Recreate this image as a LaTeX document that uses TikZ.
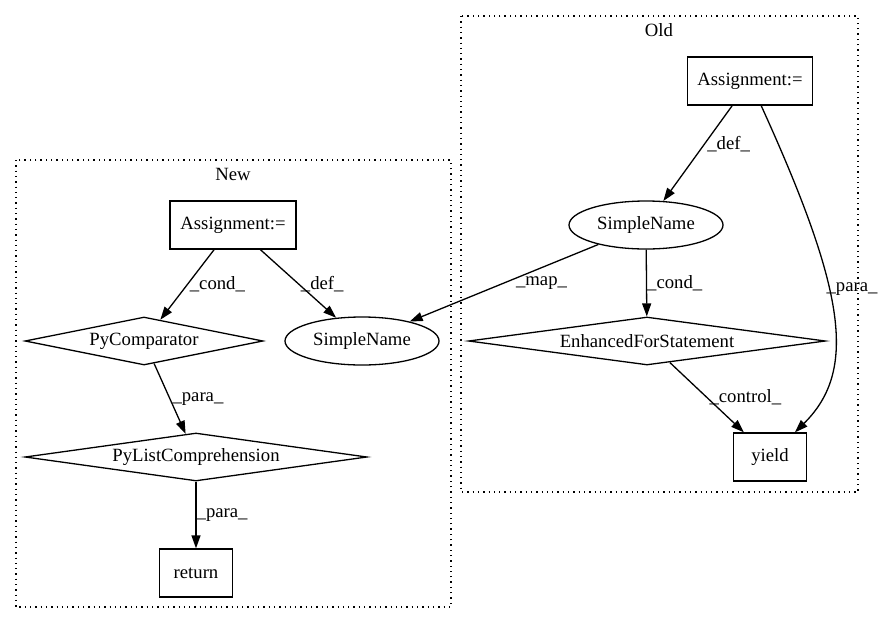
\documentclass[tikz,border=0pt]{standalone}
\usepackage{fontspec}
\setmainfont{Liberation Serif}
\usetikzlibrary{shapes.geometric,arrows.meta}

\begin{document}
\begin{tikzpicture}[x=1pt,y=-1pt,line width=1.3pt,
        font=\fontsize{18.7}{22}\selectfont,
        >={Triangle[length=13pt,width=9pt]},
        lbl/.style={right,inner sep=2pt}]
        \useasboundingbox (0,0) rectangle (883,624);

        % clusters
        \draw[dash pattern=on 1.3pt off 4pt] (16,160) rectangle (451,607);
        \node (newlbl) at (233,174) {New};
        \draw[dash pattern=on 1.3pt off 4pt] (461,16) rectangle (858,492);
        \node (oldlbl) at (659,30) {Old};

        \begin{scope}[every node/.style={draw,inner sep=0pt,minimum height=48pt},
                box/.style={rectangle},
                dia/.style={diamond,aspect=7},
                ell/.style={ellipse,minimum width=154pt}]
            \node[box,minimum width=126pt] (NA) at (233,225) {Assignment:=};
            \node[dia,minimum width=238pt] (PC) at (144,341) {PyComparator};
            \node[ell] (NS) at (362,341) {SimpleName};
            \node[dia,minimum width=342pt] (PL) at (196,457) {PyListComprehension};
            \node[box,minimum width=73pt] (R) at (196,573) {return};

            \node[box,minimum width=125pt] (OA) at (750,81) {Assignment:=};
            \node[ell] (OS) at (646,225) {SimpleName};
            \node[dia,minimum width=357pt] (EF) at (647,341) {EnhancedForStatement};
            \node[box,minimum width=73pt] (Y) at (770,457) {yield};
        \end{scope}

        \path[->] (NA) edge node[lbl] {\_cond\_} (PC);
        \path[->] (NA) edge node[lbl] {\_def\_} (NS);
        \path[->] (PC) edge node[lbl] {\_para\_} (PL);
        \path[->] (PL) edge node[lbl,inner sep=0pt] {\_para\_} (R);
        \path[->] (OA) edge node[lbl,pos=0.4] {\_def\_} (OS);
        \path[->] (OS) edge node[lbl,pos=0.45,yshift=-4pt] {\_map\_} (NS);
        \path[->] (OS) edge node[lbl,inner sep=0pt] {\_cond\_} (EF);
        \path[->] (EF) edge node[lbl] {\_control\_} (Y);
        \draw[->] (OA) .. controls (845,290) and (858,370) .. node[pos=0.42,inner sep=0pt,xshift=-3pt,anchor=west] {\_para\_} (Y);
    \end{tikzpicture}
\end{document}
